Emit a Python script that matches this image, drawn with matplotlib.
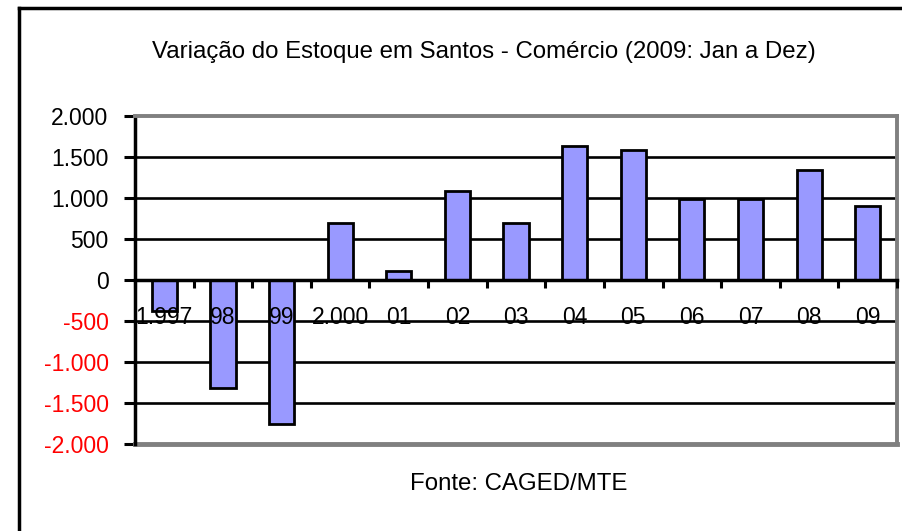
import numpy as np
import matplotlib.pyplot as plt
from matplotlib.lines import Line2D

plt.rcParams['font.family'] = ['Liberation Sans', 'DejaVu Sans']

# --- data ---
anos = ['1.997', '98', '99', '2.000', '01', '02', '03', '04', '05', '06', '07', '08', '09']
variacao = [-380, -1320, -1750, 700, 110, 1080, 700, 1640, 1590, 990, 990, 1340, 900]
yticks = [-2000, -1500, -1000, -500, 0, 500, 1000, 1500, 2000]
ylabels = ['-2.000', '-1.500', '-1.000', '-500', '0', '500', '1.000', '1.500', '2.000']

fig = plt.figure(figsize=(9.03, 5.31), dpi=100)
ax = fig.add_axes([0.1495, 0.1638, 0.8439, 0.6177])

x = np.arange(len(anos))
ax.bar(x, variacao, width=0.43, color='#9999FF', edgecolor='black', linewidth=2, zorder=3)

ax.set_xlim(-0.5, len(anos) - 0.5)
ax.set_ylim(-2000, 2000)

# gridlines
ax.set_yticks(yticks)
ax.set_yticklabels(ylabels)
for v in yticks[1:-1]:
    if v != 0:
        ax.axhline(v, color='black', lw=1.9, zorder=1)

# spines
ax.spines['left'].set_color('black')
ax.spines['left'].set_linewidth(2.5)
ax.spines['left'].set_zorder(4)
ax.spines['bottom'].set_position(('data', 0))
ax.spines['bottom'].set_color('black')
ax.spines['bottom'].set_linewidth(2.5)
ax.spines['bottom'].set_zorder(4)
for s in ['top', 'right']:
    ax.spines[s].set_color('#808080')
    ax.spines[s].set_linewidth(2.8)
    ax.spines[s].set_zorder(4)
ax.axhline(-2000, color='#808080', lw=3.5, zorder=4, clip_on=False)

# x ticks: marks between categories, labels at category centres
ax.set_xticks(np.arange(len(anos) + 1) - 0.5)
ax.set_xticklabels([])
ax.set_xticks(x, minor=True)
ax.set_xticklabels(anos, minor=True)
ax.tick_params(axis='x', which='major', direction='out', length=6, width=2.2, color='black')
ax.tick_params(axis='x', which='minor', length=0, pad=19, labelsize=16.5)
ax.tick_params(axis='y', direction='out', length=8, width=2.2, pad=11, labelsize=16.5)
ax.xaxis.set_zorder(5)  # year labels sit on top of the bars

for lbl, v in zip(ax.get_yticklabels(), yticks):
    lbl.set_color('red' if v < 0 else 'black')

fig.text(0.536, 0.903, 'Variação do Estoque em Santos - Comércio (2009: Jan a Dez)',
         ha='center', va='center', fontsize=17.3)
fig.text(0.574, 0.088, 'Fonte: CAGED/MTE', ha='center', va='center', fontsize=17.3)

# outer chart frame (left and top edges visible)
fig.add_artist(Line2D([0.021, 0.021], [0.0, 0.985], transform=fig.transFigure, color='black', lw=2.5))
fig.add_artist(Line2D([0.021, 1.0], [0.985, 0.985], transform=fig.transFigure, color='black', lw=2.5))

fig.savefig('out.png', dpi=100)
